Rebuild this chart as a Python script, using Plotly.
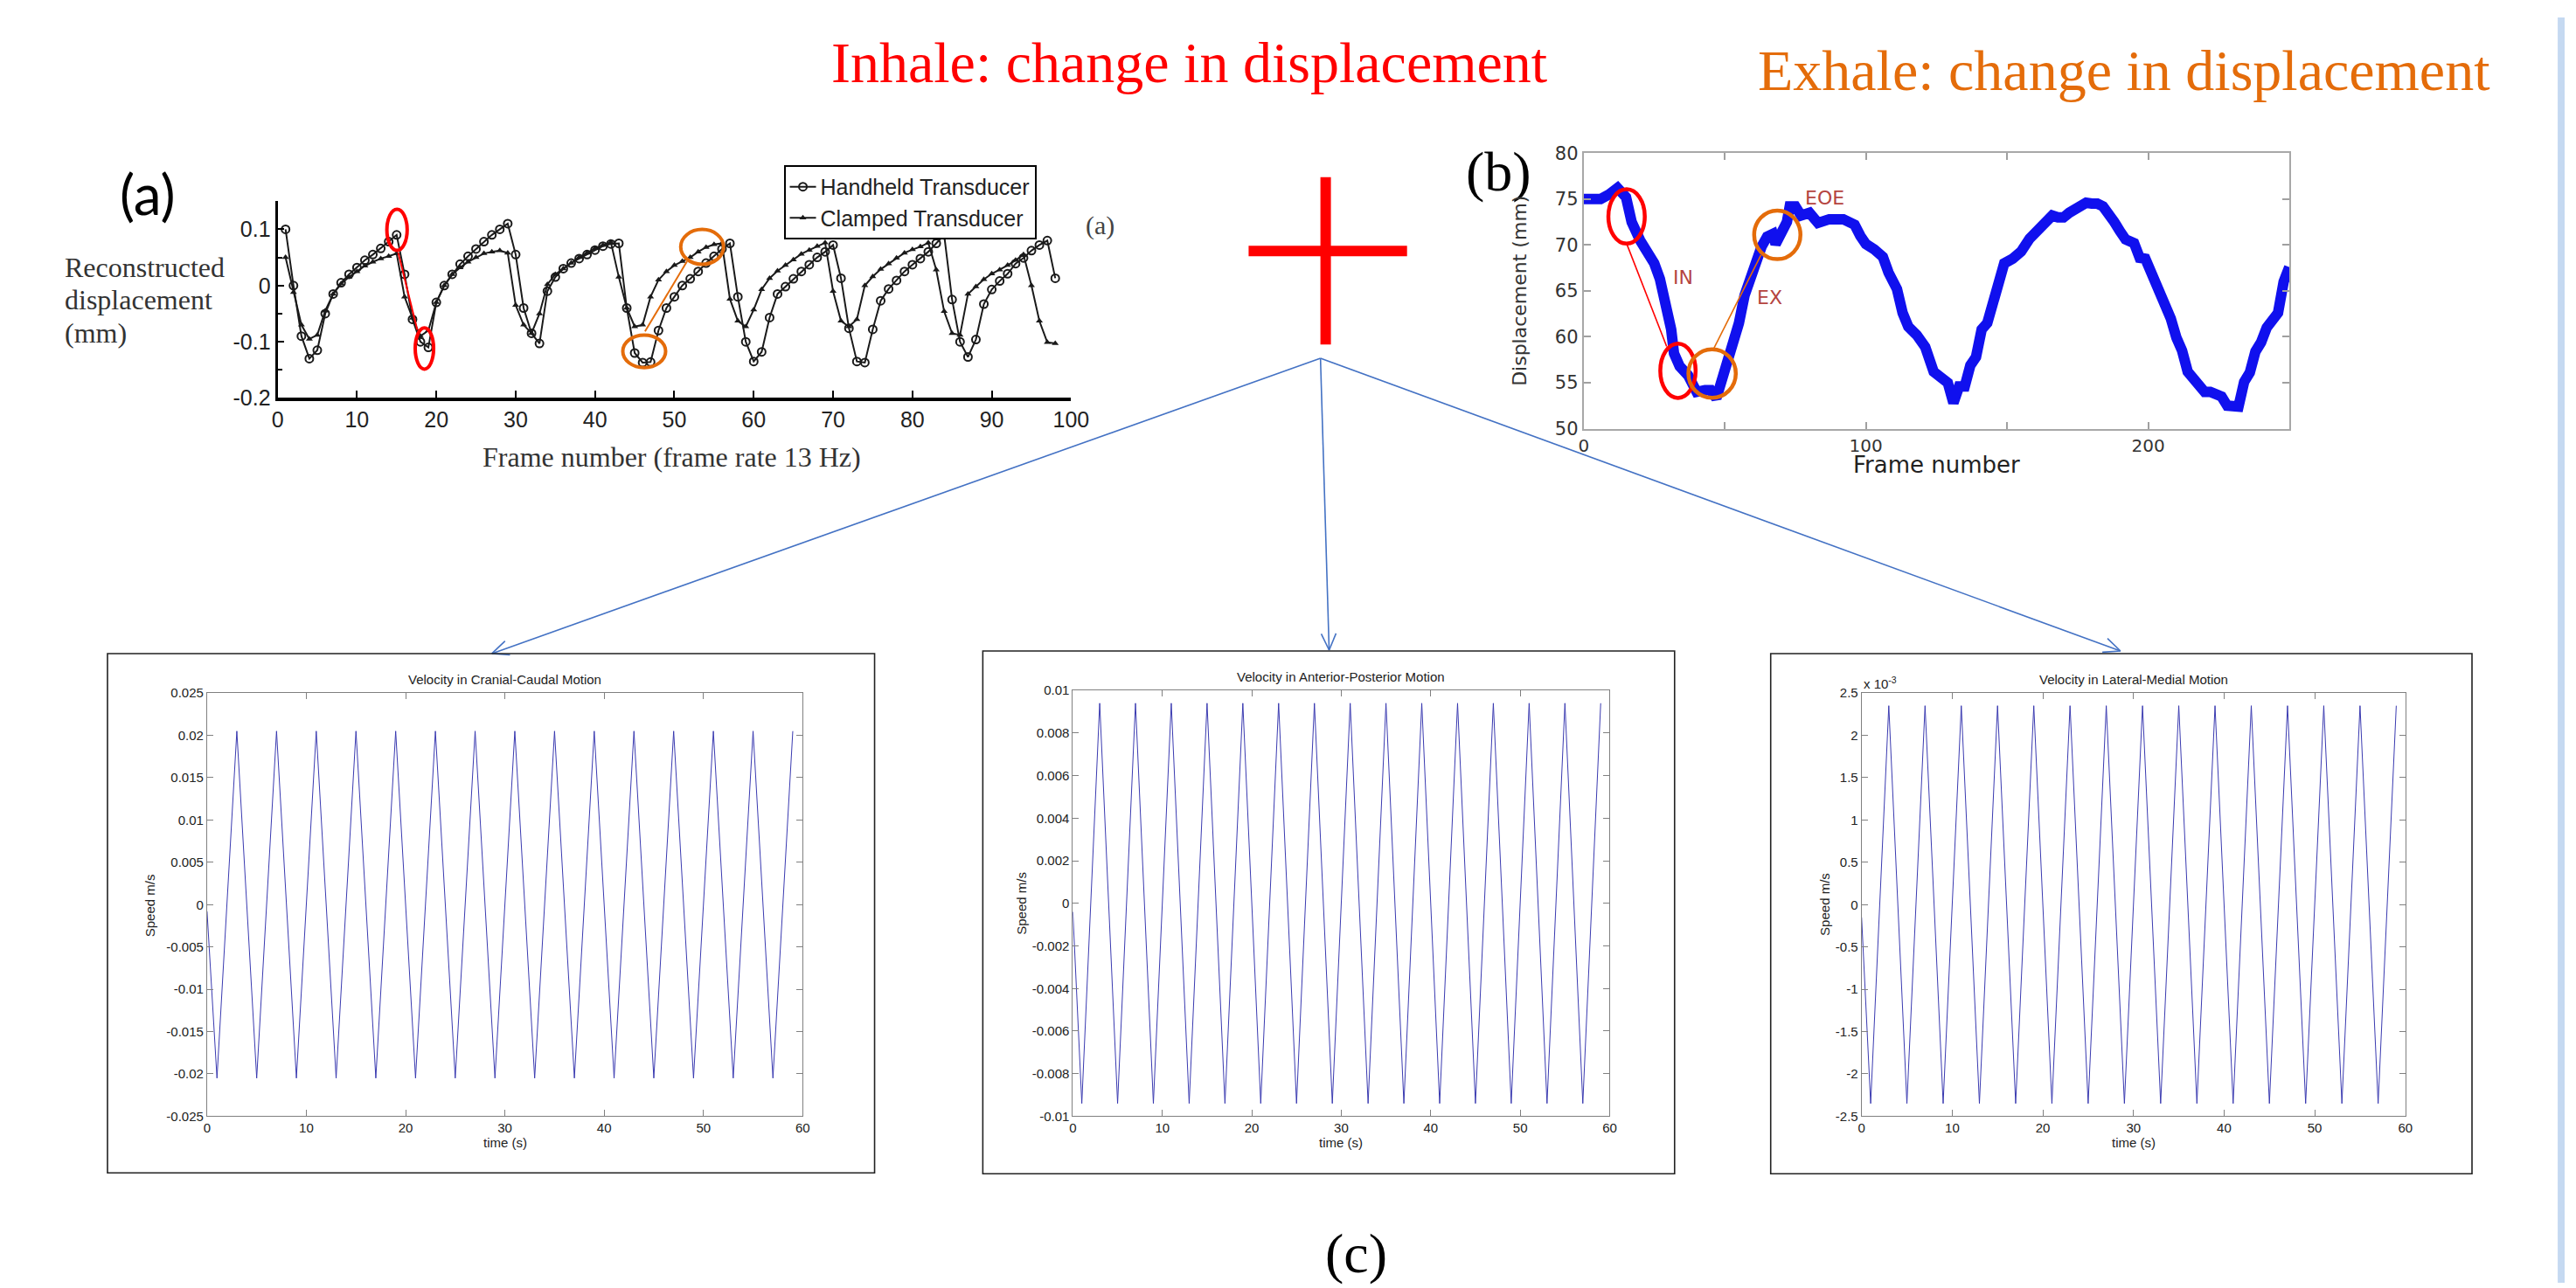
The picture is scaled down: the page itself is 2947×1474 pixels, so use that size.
import math
import plotly.graph_objects as go

W, H = 2947, 1474

# ---------------- data ----------------
# (a) Reconstructed displacement (mm) vs frame number
frames_a = list(range(1, 99))
handheld = [0.100, 0.000, -0.090, -0.130, -0.115, -0.050, -0.015, 0.005, 0.020, 0.032,
            0.045, 0.055, 0.066, 0.078, 0.090, 0.020, -0.060, -0.100, -0.110, -0.030,
            0.000, 0.020, 0.038, 0.052, 0.065, 0.078, 0.090, 0.100, 0.110, 0.055,
            -0.040, -0.085, -0.103, -0.010, 0.015, 0.030, 0.040, 0.048, 0.055, 0.063,
            0.070, 0.074, 0.075, -0.040, -0.120, -0.137, -0.136, -0.080, -0.040, -0.020,
            0.000, 0.012, 0.025, 0.040, 0.052, 0.065, 0.075, -0.020, -0.100, -0.135,
            -0.118, -0.057, -0.015, -0.002, 0.012, 0.025, 0.037, 0.050, 0.060, 0.072,
            0.013, -0.076, -0.135, -0.137, -0.078, -0.027, -0.006, 0.009, 0.025, 0.037,
            0.048, 0.060, 0.075, 0.090, -0.025, -0.100, -0.127, -0.096, -0.033, -0.007,
            0.008, 0.021, 0.039, 0.049, 0.062, 0.072, 0.080, 0.013]
clamped = [0.050, -0.012, -0.070, -0.095, -0.088, -0.045, -0.015, 0.003, 0.015, 0.025,
           0.035, 0.042, 0.048, 0.052, 0.057, -0.020, -0.058, -0.090, -0.080, -0.030,
           0.000, 0.020, 0.032, 0.042, 0.050, 0.057, 0.060, 0.062, 0.058, -0.035,
           -0.070, -0.085, -0.050, 0.002, 0.020, 0.030, 0.040, 0.050, 0.058, 0.066,
           0.072, 0.077, 0.015, -0.040, -0.073, -0.070, -0.020, 0.010, 0.025, 0.036,
           0.043, 0.050, 0.060, 0.068, 0.073, 0.075, -0.024, -0.063, -0.073, -0.043,
           -0.007, 0.013, 0.026, 0.036, 0.046, 0.056, 0.063, 0.070, 0.076, -0.010,
           -0.063, -0.073, -0.060, 0.000, 0.016, 0.029, 0.039, 0.049, 0.058, 0.064,
           0.069, 0.076, 0.028, -0.046, -0.085, -0.088, -0.015, -0.002, 0.011, 0.021,
           0.028, 0.036, 0.045, 0.055, 0.000, -0.063, -0.101, -0.103]
a_xticks = [0, 10, 20, 30, 40, 50, 60, 70, 80, 90, 100]
a_yticks = [-0.2, -0.1, 0, 0.1]
a_ylabels = ["-0.2", "-0.1", "0", "0.1"]
a_yminor = [-0.15, -0.05, 0.05, 0.15]

# (b) Displacement (mm) vs frame number
frames_b = [0, 3, 6, 9, 12, 15, 17, 20, 23, 25, 27, 29, 31, 32, 34, 37, 40, 43, 45, 47,
            49, 51, 53, 55, 57, 59, 61, 63, 65, 67, 68, 70, 72, 73, 75, 77, 80, 83, 87, 92,
            96, 98, 100, 103, 106, 108, 111, 113, 115, 118, 121, 124, 127, 129, 131, 133, 135, 137, 139, 141,
            143, 145, 147, 149, 152, 155, 158, 161, 164, 166, 168, 170, 172, 174, 176, 178, 180, 182, 184, 186,
            188, 190, 192, 195, 197, 199, 202, 204, 206, 208, 210, 212, 214, 216, 218, 220, 222, 224, 226, 228,
            230, 232, 234, 236, 238, 240, 242, 244, 246, 248, 250]
disp_b = [75.0, 75.0, 75.0, 75.5, 76.2, 75.2, 72.5, 70.5, 69.0, 68.0, 66.3, 63.8, 60.8, 58.2, 56.8, 55.8, 54.0, 54.2, 54.2, 53.3,
          55.5, 56.8, 59.6, 61.5, 64.5, 66.5, 68.6, 69.8, 70.9, 71.2, 70.1, 71.5, 72.5, 74.2, 74.2, 73.2, 73.5, 72.4, 72.8, 72.8,
          72.2, 71.0, 70.1, 69.5, 68.7, 67.0, 65.2, 62.6, 61.1, 60.2, 58.9, 56.2, 55.3, 55.0, 52.8, 54.6, 54.6, 56.9, 57.8, 60.8,
          61.5, 64.0, 65.6, 68.0, 68.5, 69.3, 70.7, 71.7, 72.6, 73.2, 73.0, 73.0, 73.5, 73.9, 74.5, 74.6, 74.5, 74.5, 74.2, 73.5,
          72.5, 71.5, 70.6, 70.2, 68.6, 68.5, 66.5, 64.8, 63.5, 62.0, 59.9, 58.5, 56.2, 55.5, 54.7, 54.0, 54.0, 53.6, 53.5, 52.5,
          52.3, 52.4, 55.1, 56.1, 58.4, 59.4, 61.0, 62.0, 62.6, 66.0, 67.6]
b_xticks = [0, 100, 200]
b_xminor = [50, 150, 250]
b_yticks = [50, 55, 60, 65, 70, 75, 80]

# (c) velocities vs time (s)
time_c = [0, 1, 3, 5, 7, 9, 11, 13, 15, 17, 19, 21, 23, 25, 27, 29, 31, 33, 35, 37,
          39, 41, 43, 45, 47, 49, 51, 53, 55, 57, 59]
vel_cc = [-0.0008, -0.0205, 0.0205, -0.0205, 0.0205, -0.0205, 0.0205, -0.0205, 0.0205, -0.0205,
          0.0205, -0.0205, 0.0205, -0.0205, 0.0205, -0.0205, 0.0205, -0.0205, 0.0205, -0.0205,
          0.0205, -0.0205, 0.0205, -0.0205, 0.0205, -0.0205, 0.0205, -0.0205, 0.0205, -0.0205, 0.0205]
vel_ap = [-0.0004, -0.0094, 0.0094, -0.0094, 0.0094, -0.0094, 0.0094, -0.0094, 0.0094, -0.0094,
          0.0094, -0.0094, 0.0094, -0.0094, 0.0094, -0.0094, 0.0094, -0.0094, 0.0094, -0.0094,
          0.0094, -0.0094, 0.0094, -0.0094, 0.0094, -0.0094, 0.0094, -0.0094, 0.0094, -0.0094, 0.0094]
vel_lm = [-0.00015, -0.00235, 0.00235, -0.00235, 0.00235, -0.00235, 0.00235, -0.00235, 0.00235, -0.00235,
          0.00235, -0.00235, 0.00235, -0.00235, 0.00235, -0.00235, 0.00235, -0.00235, 0.00235, -0.00235,
          0.00235, -0.00235, 0.00235, -0.00235, 0.00235, -0.00235, 0.00235, -0.00235, 0.00235, -0.00235, 0.00235]
c_xticks = [0, 10, 20, 30, 40, 50, 60]
cc_yticks = [-0.025, -0.02, -0.015, -0.01, -0.005, 0, 0.005, 0.01, 0.015, 0.02, 0.025]
cc_ylabels = ["-0.025", "-0.02", "-0.015", "-0.01", "-0.005", "0", "0.005", "0.01", "0.015", "0.02", "0.025"]
ap_yticks = [-0.01, -0.008, -0.006, -0.004, -0.002, 0, 0.002, 0.004, 0.006, 0.008, 0.01]
ap_ylabels = ["-0.01", "-0.008", "-0.006", "-0.004", "-0.002", "0", "0.002", "0.004", "0.006", "0.008", "0.01"]
lm_yticks = [-0.0025, -0.002, -0.0015, -0.001, -0.0005, 0, 0.0005, 0.001, 0.0015, 0.002, 0.0025]
lm_ylabels = ["-2.5", "-2", "-1.5", "-1", "-0.5", "0", "0.5", "1", "1.5", "2", "2.5"]

# ---------------- helpers ----------------
def X(px):
    return px / W

def Y(py):
    return 1 - py / H

SERIF = "Liberation Serif, Times New Roman, serif"
SANS = "Liberation Sans, Arial, sans-serif"
DEJ = "DejaVu Sans, sans-serif"
RED = "#ff0000"
ORANGE = "#e46c0a"
ARROW = "#4472c4"
VCOL = "#3a3ab0"

fig = go.Figure()

# (a)
fig.add_trace(go.Scatter(x=frames_a, y=handheld, mode="lines+markers", name="Handheld Transducer",
                         line=dict(color="#1a1a1a", width=2),
                         marker=dict(symbol="circle-open", size=9, color="#1a1a1a", line=dict(width=2)),
                         xaxis="x", yaxis="y"))
fig.add_trace(go.Scatter(x=frames_a, y=clamped, mode="lines+markers", name="Clamped Transducer",
                         line=dict(color="#1a1a1a", width=2),
                         marker=dict(symbol="triangle-up", size=7, color="#1a1a1a"),
                         xaxis="x", yaxis="y"))
# (b)
fig.add_trace(go.Scatter(x=frames_b, y=disp_b, mode="lines", showlegend=False,
                         line=dict(color="#1010ee", width=12), xaxis="x2", yaxis="y2"))
# (c)
for i, vals in enumerate([vel_cc, vel_ap, vel_lm]):
    fig.add_trace(go.Scatter(x=time_c, y=vals, mode="lines", showlegend=False,
                             line=dict(color=VCOL, width=1),
                             xaxis="x%d" % (i + 3), yaxis="y%d" % (i + 3)))

ax_common = dict(showgrid=False, zeroline=False)

layout = dict(
    width=W, height=H, margin=dict(l=0, r=0, t=0, b=0),
    paper_bgcolor="white", plot_bgcolor="rgba(0,0,0,0)",
    font=dict(family=SANS, color="#222"),
    showlegend=True,
    legend=dict(x=X(890), y=Y(172), xanchor="left", yanchor="top",
                bgcolor="white", bordercolor="black", borderwidth=2,
                font=dict(family=SANS, size=25, color="#222"), tracegroupgap=0),
    # (a)
    xaxis=dict(domain=[X(305.5), X(1222)], range=[0, 100], anchor="y", **ax_common,
               showline=True, linecolor="black", linewidth=4, ticks="inside", ticklen=8,
               tickwidth=2, tickcolor="black", tickvals=a_xticks,
               tickfont=dict(family=SANS, size=25, color="#222")),
    yaxis=dict(domain=[Y(443.3), Y(214)], range=[-0.2, 0.15], anchor="x", **ax_common,
               showline=True, linecolor="black", linewidth=3, ticks="inside", ticklen=7,
               tickwidth=2, tickcolor="black", tickvals=a_yticks, ticktext=a_ylabels,
               minor=dict(tickvals=a_yminor, ticks="inside", ticklen=5, tickwidth=2,
                          tickcolor="black", showgrid=False),
               tickfont=dict(family=SANS, size=25, color="#222")),
    # (b)
    xaxis2=dict(domain=[X(1814), X(2629)], range=[0, 250], anchor="y2", **ax_common,
                showline=True, mirror="ticks", linecolor="#a8a8a8", linewidth=2,
                ticks="inside", ticklen=8, tickcolor="#a0a0a0", tickwidth=2,
                tickvals=b_xticks,
                minor=dict(tickvals=b_xminor, ticks="inside", ticklen=8, tickwidth=2,
                           tickcolor="#a0a0a0", showgrid=False),
                tickfont=dict(family=DEJ, size=20, color="#333")),
    yaxis2=dict(domain=[Y(479), Y(158)], range=[50, 80], anchor="x2", **ax_common,
                showline=True, mirror="ticks", linecolor="#a8a8a8", linewidth=2,
                ticks="inside", ticklen=8, tickcolor="#a0a0a0", tickwidth=2,
                tickvals=b_yticks, tickfont=dict(family=DEJ, size=21, color="#333")),
)

bottom = [
    ((224, 912), (787, 1280), [-0.025, 0.025], cc_yticks, cc_ylabels),
    ((1224, 1844), (784, 1280), [-0.01, 0.01], ap_yticks, ap_ylabels),
    ((2135, 2763), (787, 1280), [-0.0025, 0.0025], lm_yticks, lm_ylabels),
]
for i, (xr, yr, rng, tv, tt) in enumerate(bottom):
    n = i + 3
    layout["xaxis%d" % n] = dict(domain=[X(xr[0]), X(xr[1])], range=[0, 60], anchor="y%d" % n,
                                 **ax_common, showline=True, mirror="ticks", linecolor="#808080",
                                 linewidth=1, ticks="inside", ticklen=7, tickcolor="#808080",
                                 tickvals=c_xticks, tickfont=dict(family=SANS, size=15, color="#222"))
    layout["yaxis%d" % n] = dict(domain=[Y(yr[1]), Y(yr[0])], range=rng, anchor="x%d" % n,
                                 **ax_common, showline=True, mirror="ticks", linecolor="#808080",
                                 linewidth=1, ticks="inside", ticklen=7, tickcolor="#808080",
                                 tickvals=tv, ticktext=tt, tickfont=dict(family=SANS, size=15, color="#222"))
fig.update_layout(**layout)

# ---------------- annotations ----------------
anns = []

def txt(text, px, py, size, color="#222", family=SANS, xanchor="center", angle=0, ref=None):
    d = dict(text=text, showarrow=False, font=dict(family=family, size=size, color=color),
             xanchor=xanchor, yanchor="middle", textangle=angle)
    if ref is None:
        d.update(xref="paper", yref="paper", x=X(px), y=Y(py))
    else:
        d.update(xref=ref[0], yref=ref[1], x=px, y=py)
    anns.append(d)

txt("Inhale: change in displacement", 1358, 52, 66, RED, SERIF)
txt("Exhale: change in displacement", 2438, 62, 66, ORANGE, SERIF)
txt("(a)", 155, 205, 64, "black", "Lato, sans-serif")
txt("(b)", 1716, 180, 64, "black", SERIF)
txt("(c)", 1551, 1440, 64, "black", SERIF)

# panel (a) texts
txt("Reconstructed", 58, 291, 32, "#333", SERIF, xanchor="left")
txt("displacement", 58, 329, 32, "#333", SERIF, xanchor="left")
txt("(mm)", 58, 367, 32, "#333", SERIF, xanchor="left")
txt("Frame number (frame rate 13 Hz)", 761, 512, 32, "#333", SERIF)
txt("(a)", 1255, 242, 30, "#444", SERIF)

# panel (b) texts
txt("Frame number", 2222, 521, 26, "#222", DEJ)
txt("Displacement (mm)", 1740, 318, 22, "#333", DEJ, angle=-90)
txt("IN", 35.3, 66.45, 22, "#b5443f", DEJ, ref=("x2", "y2"))
txt("EX", 65.8, 64.3, 22, "#b5443f", DEJ, ref=("x2", "y2"))
txt("EOE", 85.4, 75.1, 22, "#b5443f", DEJ, ref=("x2", "y2"))

# panel (c) texts
titles = ["Velocity in Cranial-Caudal Motion", "Velocity in Anterior-Posterior Motion",
          "Velocity in Lateral-Medial Motion"]
tcx = [568, 1534, 2449]
tcy = [771, 768, 771]
spx = [158, 1165, 2093]
spy = [1034, 1032, 1033]
for i in range(3):
    txt(titles[i], tcx[i], tcy[i], 15, "#222", SANS)
    txt("time (s)", tcx[i], 1311, 15, "#222", SANS)
    txt("Speed m/s", spx[i], spy[i], 15, "#222", SANS, angle=-90)
txt("x 10<sup>-3</sup>", 2135, 775, 15, "#222", SANS, xanchor="left")

fig.update_layout(annotations=anns)

# ---------------- shapes ----------------
shapes = []

def pline(p0, p1, color, width):
    shapes.append(dict(type="line", xref="paper", yref="paper",
                       x0=X(p0[0]), y0=Y(p0[1]), x1=X(p1[0]), y1=Y(p1[1]),
                       line=dict(color=color, width=width)))

# red plus sign
pline((1516, 186), (1516, 381), RED, 12)
pline((1427, 272), (1610, 272), RED, 12)

# arrows
tail = (1510, 397)
for head in [(553, 741), (1520, 737), (2434, 738)]:
    pline(tail, head, ARROW, 1.6)
    dx, dy = head[0] - tail[0], head[1] - tail[1]
    L = math.hypot(dx, dy)
    ux, uy = -dx / L, -dy / L
    for ang in (math.radians(24), math.radians(-24)):
        rx = ux * math.cos(ang) - uy * math.sin(ang)
        ry = ux * math.sin(ang) + uy * math.cos(ang)
        pline(head, (head[0] + 21 * rx, head[1] + 21 * ry), ARROW, 1.6)

# bottom panel frames
for (x0, x1, y0, y1) in [(109, 995, 741, 1346), (1120, 1919, 738, 1347), (2030, 2840, 741, 1347)]:
    shapes.append(dict(type="rect", xref="paper", yref="paper", x0=X(x0), x1=X(x1),
                       y0=Y(y1), y1=Y(y0), line=dict(color="#222", width=1.6)))

# right-edge light blue bar
shapes.append(dict(type="rect", xref="paper", yref="paper", x0=X(2939), x1=1, y0=0, y1=1,
                   fillcolor="#c5d9f1", line=dict(width=0)))

def ell(xref, yref, cx, cy, hw, hh, color, width):
    shapes.append(dict(type="circle", xref=xref, yref=yref, x0=cx - hw, x1=cx + hw,
                       y0=cy - hh, y1=cy + hh, line=dict(color=color, width=width)))

def dline(xref, yref, p0, p1, color, width):
    shapes.append(dict(type="line", xref=xref, yref=yref, x0=p0[0], y0=p0[1], x1=p1[0], y1=p1[1],
                       line=dict(color=color, width=width)))

# panel (a) highlights
ell("x", "y", 15.05, 0.099, 1.28, 0.0366, RED, 4)
ell("x", "y", 18.5, -0.112, 1.16, 0.0366, RED, 4)
ell("x", "y", 46.2, -0.117, 2.7, 0.029, ORANGE, 4)
ell("x", "y", 53.5, 0.0687, 2.7, 0.031, ORANGE, 4)
dline("x", "y", (15.2, 0.0585), (17.6, -0.079), RED, 2)
dline("x", "y", (46.3, -0.0815), (51.6, 0.043), ORANGE, 2)

# panel (b) highlights
ell("x2", "y2", 15.2, 73.1, 6.45, 2.96, RED, 4.5)
ell("x2", "y2", 33.4, 56.3, 6.26, 2.96, RED, 4.5)
ell("x2", "y2", 45.5, 56.0, 8.4, 2.65, ORANGE, 4.5)
ell("x2", "y2", 68.6, 71.1, 8.2, 2.65, ORANGE, 4.5)
dline("x2", "y2", (15.2, 70.16), (29.4, 58.95), RED, 1.6)
dline("x2", "y2", (45.9, 58.6), (62.8, 68.9), ORANGE, 1.6)

fig.update_layout(shapes=shapes)

fig.write_html("out.html")
